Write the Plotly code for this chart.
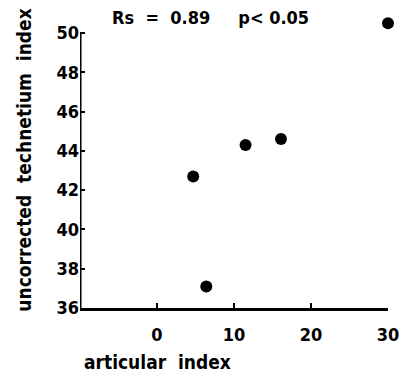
import plotly.graph_objects as go

articular_index = [4.7, 6.4, 11.5, 16.1, 30.0]
technetium_index = [42.7, 37.1, 44.3, 44.6, 50.5]
x_ticks = [0, 10, 20, 30]
y_ticks = [36, 38, 40, 42, 44, 46, 48, 50]

FONT = "DejaVu Sans Condensed, Liberation Sans Narrow, sans-serif"

# pixel geometry of the reference
L, R, T, B = 80, 14, 13, 68
W, H = 411, 376
PW, PH = W - L - R, H - T - B
Y0_PX, Y50_PX = 308, 33
PX_PER_UNIT = (Y0_PX - Y50_PX) / 14.0
Y_TOP = 36 + (Y0_PX - T) / PX_PER_UNIT


def px_to_paper(px, py):
    return (px - L) / PW, (H - B - py) / PH


fig = go.Figure()
fig.add_trace(go.Scatter(
    x=articular_index, y=technetium_index, mode="markers",
    marker=dict(color="black", size=12),
    cliponaxis=False, showlegend=False, hoverinfo="skip",
))

# y axis line only up to the top tick (50)
fig.add_shape(type="line", xref="x", yref="y", x0=-10, x1=-10, y0=36, y1=50,
              line=dict(color="black", width=3))

tx, ty = px_to_paper(214, 18)
ax_, ay_ = px_to_paper(82, 362)
yx, yy = px_to_paper(22, 160)

fig.update_layout(
    width=W, height=H,
    margin=dict(l=L, r=R, t=T, b=B),
    plot_bgcolor="white", paper_bgcolor="white",
    font=dict(family=FONT, size=18, color="black"),
    xaxis=dict(
        range=[-10, 30], tickvals=x_ticks, ticktext=[str(v) for v in x_ticks],
        showgrid=False, zeroline=False, showline=True, linecolor="black", linewidth=3,
        ticks="inside", ticklen=5, tickwidth=2, tickcolor="black",
        ticklabelstandoff=8,
        tickfont=dict(family=FONT, size=18, color="black", weight="bold"),
    ),
    yaxis=dict(
        range=[36, Y_TOP], tickvals=y_ticks, ticktext=[str(v) for v in y_ticks],
        showgrid=False, zeroline=False, showline=False,
        ticks="inside", ticklen=5, tickwidth=2, tickcolor="black",
        tickfont=dict(family=FONT, size=18, color="black", weight="bold"),
    ),
    annotations=[
        dict(text="<b>Rs  =  0.89     p&lt; 0.05</b>", xref="paper", yref="paper",
             x=tx, y=ty, xanchor="center", yanchor="middle",
             showarrow=False, font=dict(family=FONT, size=18, color="black")),
        dict(text="<b>articular  index</b>", xref="paper", yref="paper",
             x=ax_, y=ay_, xanchor="left", yanchor="middle",
             showarrow=False, font=dict(family=FONT, size=19, color="black")),
        dict(text="<b>uncorrected  technetium  index</b>", xref="paper", yref="paper",
             x=yx, y=yy, xanchor="center", yanchor="middle",
             textangle=-90, showarrow=False, font=dict(family=FONT, size=19, color="black")),
    ],
)

fig.write_html("out.html", config={"displayModeBar": False},
               post_script="document.body.style.margin='0';document.body.style.padding='0';")
